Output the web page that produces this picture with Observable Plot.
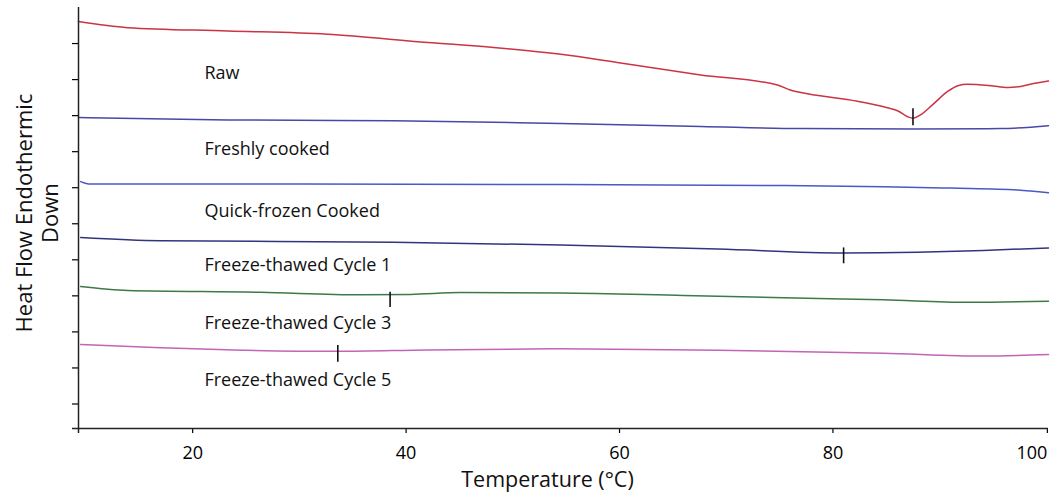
<!DOCTYPE html>
<html><head><meta charset="utf-8">
<script src="https://cdn.jsdelivr.net/npm/d3@7"></script>
<script src="https://cdn.jsdelivr.net/npm/@observablehq/plot@0.6"></script>
<style>body{margin:0;background:#fff} svg{display:block}</style>
</head><body><div id="chart"></div>
<script>
// Temperature (°C) and heat flow (arbitrary units, endothermic down)
const rawT  = [9.3, 13.9, 23.3, 32.6, 42.0, 48.2, 54.5, 60.1, 67.6, 74.8, 76.0, 77.0, 81.7, 85.1, 86.1, 87.0, 87.5, 88.2, 89.4, 90.75, 91.7, 92.6, 94.8, 96.4, 97.6, 98.8, 100.2];
const rawHF = [11.61, 11.44, 11.35, 11.26, 11.03, 10.89, 10.70, 10.46, 10.13, 9.85, 9.71, 9.64, 9.43, 9.22, 9.13, 8.97, 8.93, 9.02, 9.32, 9.67, 9.83, 9.87, 9.83, 9.78, 9.81, 9.89, 9.96];

const freshT  = [9.3, 23.3, 38.8, 54.5, 67.6, 77.0, 87.5, 95.7, 100.2];
const freshHF = [8.95, 8.88, 8.86, 8.78, 8.70, 8.64, 8.63, 8.64, 8.72];

const quickT  = [9.5, 10.4, 30.0, 54.0, 75.4, 84.75, 91.0, 97.3, 100.2];
const quickHF = [7.17, 7.10, 7.10, 7.09, 7.06, 7.03, 6.99, 6.94, 6.86];

const ft1T  = [9.5, 17.0, 38.8, 54.5, 69.2, 81.0, 87.9, 94.1, 100.2];
const ft1HF = [5.62, 5.53, 5.49, 5.41, 5.30, 5.19, 5.21, 5.26, 5.33];

const ft3T  = [9.5, 13.9, 26.35, 35.7, 40.4, 45.1, 54.5, 66.0, 78.6, 84.75, 92.6, 100.2];
const ft3HF = [4.26, 4.15, 4.10, 4.03, 4.04, 4.09, 4.08, 4.01, 3.93, 3.89, 3.82, 3.85];

const ft5T  = [9.5, 17.0, 33.6, 42.0, 54.5, 69.2, 84.75, 94.1, 100.2];
const ft5HF = [2.65, 2.56, 2.46, 2.50, 2.53, 2.49, 2.41, 2.33, 2.37];

const seriesNames  = ["Raw", "Freshly cooked", "Quick-frozen Cooked", "Freeze-thawed Cycle 1", "Freeze-thawed Cycle 3", "Freeze-thawed Cycle 5"];
const seriesColors = ["#cc3344", "#4848a8", "#4a58c8", "#34347e", "#3c7a48", "#c464b4"];
const labelT  = [21.1, 21.1, 21.1, 21.1, 21.1, 21.1];
const labelHF = [10.19, 8.08, 6.34, 4.84, 3.23, 1.65];

// Peak markers
const markerT      = [87.5, 81.0, 38.5, 33.6];
const markerTop    = [9.19, 5.33, 4.10, 2.62];
const markerBottom = [8.72, 4.89, 3.68, 2.16];

const xTicks = [20, 40, 60, 80, 100];
const yTicks = [1, 2, 3, 4, 5, 6, 7, 8, 9, 10, 11];
const xDomain = [9.3, 100.2];
const yDomain = [0.32, 12];

const seriesT  = [rawT, freshT, quickT, ft1T, ft3T, ft5T];
const seriesHF = [rawHF, freshHF, quickHF, ft1HF, ft3HF, ft5HF];
const seriesData = seriesNames.map((n, i) => seriesT[i].map((t, j) => ({t, hf: seriesHF[i][j]})));
const labels = seriesNames.map((n, i) => ({n, t: labelT[i], hf: labelHF[i]}));
const markers = markerT.map((t, i) => ({t, y1: markerTop[i], y2: markerBottom[i]}));

const chart = Plot.plot({
  width: 1050,
  height: 495,
  marginLeft: 78,
  marginRight: 2,
  marginTop: 7,
  marginBottom: 67,
  style: {fontFamily: "'Open Sans', sans-serif", fontSize: "18px", color: "#000", background: "#fff"},
  x: {domain: xDomain},
  y: {domain: yDomain},
  marks: [
    ...seriesData.map((d, i) => Plot.line(d, {x: "t", y: "hf", stroke: seriesColors[i], strokeWidth: 1.5, curve: "monotone-x"})),
    Plot.ruleX(markers, {x: "t", y1: "y1", y2: "y2", stroke: "#111", strokeWidth: 1.6}),
    Plot.text(labels, {x: "t", y: "hf", text: "n", textAnchor: "start", fontSize: 18, fill: "#111"}),
    Plot.axisY({ticks: yTicks, tickSize: 6, tickFormat: () => "", label: null, strokeWidth: 1.2}),
    Plot.axisX({ticks: xTicks.slice(0, 4), tickSize: 5, tickPadding: 13, fontSize: 18, label: null, strokeWidth: 1.2}),
    Plot.axisX({ticks: xTicks.slice(4), tickSize: 5, tickPadding: 13, fontSize: 18, label: null, textAnchor: "end", dx: 1, strokeWidth: 1.2}),
    Plot.ruleY([yDomain[0]], {stroke: "#222", strokeWidth: 1.5, insetLeft: -6}),
    Plot.ruleX([xDomain[0]], {stroke: "#222", strokeWidth: 1.5, insetBottom: -5}),
    Plot.text(["Temperature (°C)"], {frameAnchor: "bottom", dx: -16, dy: 58, fontSize: 21.5, fill: "#111"}),
    Plot.text(["Heat Flow Endothermic\nDown"], {frameAnchor: "left", textAnchor: "middle", dx: -42, dy: -5, rotate: -90, fontSize: 22, lineHeight: 1.2, fill: "#111"})
  ]
});
document.getElementById("chart").appendChild(chart);
</script>
</body></html>
